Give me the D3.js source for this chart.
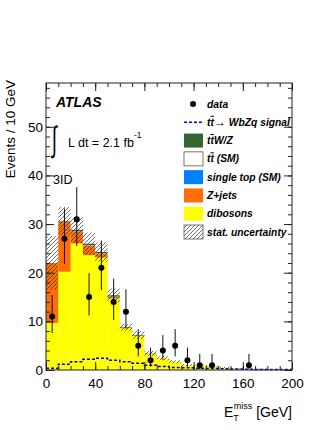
<!DOCTYPE html>
<html>
<head>
<meta charset="utf-8">
<script src="https://cdn.jsdelivr.net/npm/d3@7"></script>
<style>
  body { margin: 0; background: #fff; }
  svg { display: block; font-family: "Liberation Sans", Arial, sans-serif; }
</style>
</head>
<body>
<svg id="svg" width="332" height="430"></svg>
<script>
const w = 332;
const h = 430;

// bin lower edges [GeV], 10 GeV wide
const binLo = [0, 10, 20, 30, 40, 50, 60, 70, 80, 90, 100, 110, 120, 130, 140, 150, 160, 170, 180, 190];
const binWidth = 10;

// stacked backgrounds (bottom to top)
const dibosons = [9.7, 20.2, 26.0, 23.6, 23.1, 14.7, 8.6, 7.0, 3.3, 2.4, 1.7, 1.0, 0.9, 0.8, 0.5, 0.25, 0.15, 0.2, 0.1, 0.1];
const zjets = [12.3, 10.3, 2.4, 2.0, 0.8, 0.3, 0.1, 0.1, 0.05, 0, 0, 0, 0, 0, 0, 0, 0, 0, 0, 0];
const singleTop = [0, 0, 0.05, 0.05, 0.05, 0.05, 0, 0, 0, 0, 0, 0, 0, 0, 0, 0, 0, 0, 0, 0];
const ttbarSM = [0, 0, 0.05, 0.05, 0.05, 0.05, 0, 0, 0, 0, 0, 0, 0, 0, 0, 0, 0, 0, 0, 0];
const ttV = [0, 0.1, 0.3, 0.25, 0.25, 0.25, 0.1, 0.1, 0.05, 0, 0, 0, 0, 0, 0, 0, 0, 0, 0, 0];
const statUnc = [5.5, 2.9, 2.7, 2.3, 2.0, 1.4, 0.7, 0.8, 0.5, 0.4, 0.3, 0.2, 0.2, 0.2, 0.15, 0.1, 0.1, 0.1, 0.05, 0.05];

// signal tt -> WbZq
const signal = [0.35, 1.2, 1.7, 2.2, 2.4, 2.0, 1.7, 1.4, 1.0, 0.7, 0.5, 0.45, 0.35, 0.3, 0.25, 0.2, 0.15, 0.1, 0.1, 0.1];

// data with asymmetric errors
const dataVals = [11, 27, 31, 15, 21, 14, 12, 5, 2, 4, 5, 2, 1, 1, 0, 0, 1, 0, 0, 0];
const errLo = [3.4, 5.2, 5.5, 3.8, 4.6, 3.7, 3.5, 2.2, 1.3, 1.9, 2.2, 1.3, 0.8, 0.8, 0, 0, 0.8, 0, 0, 0];
const errHi = [4.4, 6.2, 6.6, 4.9, 5.6, 4.8, 4.6, 3.4, 2.6, 3.2, 3.4, 2.6, 2.3, 2.3, 0, 0, 2.3, 0, 0, 0];

const xTicks = [0, 40, 80, 120, 160, 200];
const yTicks = [0, 10, 20, 30, 40, 50];

const layers = [
  { key: "dibosons", vals: dibosons, color: "#ffff00" },
  { key: "zjets", vals: zjets, color: "#ff6e00" },
  { key: "singletop", vals: singleTop, color: "#0080ff" },
  { key: "ttbar", vals: ttbarSM, color: "#ffffff" },
  { key: "ttv", vals: ttV, color: "#336633" },
];

// legend labels; "tt" prefix gets a bar over the second t
const legendItems = [
  { label: "data", type: "data" },
  { tt: true, arrow: true, label: " WbZq signal", type: "signal" },
  { tt: true, label: "W/Z", type: "box", color: "#336633" },
  { tt: true, label: " (SM)", type: "box", color: "#ffffff" },
  { label: "single top (SM)", type: "box", color: "#0080ff" },
  { label: "Z+jets", type: "box", color: "#ff6e00" },
  { label: "dibosons", type: "box", color: "#ffff00" },
  { label: "stat. uncertainty", type: "hatch" },
];

const frame = { left: 46, right: 292, top: 83, bottom: 370 };

let svg = d3.select("#svg");

let xScale = d3.scaleLinear([0, 200], [frame.left, frame.right]);
let yScale = d3.scaleLinear([0, 59], [frame.bottom, frame.top]);

// hatch pattern
svg
  .append("defs")
  .append("pattern")
  .attr("id", "hatch")
  .attr("patternUnits", "userSpaceOnUse")
  .attr("width", 4)
  .attr("height", 4)
  .append("path")
  .attr("d", "M-1,1 l2,-2 M0,4 l4,-4 M3,5 l2,-2")
  .attr("stroke", "#333")
  .attr("stroke-width", 0.7);

// stacked histogram
const bins = binLo.map((lo, i) => {
  const row = { lo: lo };
  layers.forEach((l) => (row[l.key] = l.vals[i]));
  return row;
});
const stack = d3.stack().keys(layers.map((l) => l.key));
const stacked = stack(bins);

stacked.forEach((series, k) => {
  svg
    .append("g")
    .selectAll("rect")
    .data(series)
    .join("rect")
    .attr("x", (d) => xScale(d.data.lo))
    .attr("width", xScale(binWidth) - xScale(0))
    .attr("y", (d) => yScale(d[1]))
    .attr("height", (d) => Math.max(0, yScale(d[0]) - yScale(d[1])))
    .attr("fill", layers[k].color);
});

// stat. uncertainty band
const totals = bins.map((b, i) => layers.reduce((s, l) => s + l.vals[i], 0));
svg
  .append("g")
  .selectAll("rect")
  .data(binLo)
  .join("rect")
  .attr("x", (d) => xScale(d))
  .attr("width", xScale(binWidth) - xScale(0))
  .attr("y", (d, i) => yScale(totals[i] + statUnc[i]))
  .attr("height", (d, i) => yScale(Math.max(0, totals[i] - statUnc[i])) - yScale(totals[i] + statUnc[i]))
  .attr("fill", "url(#hatch)");

// signal (dashed step line)
let stepLine = d3
  .line()
  .x((d) => xScale(d[0]))
  .y((d) => yScale(d[1]))
  .curve(d3.curveStepAfter);
const sigPts = binLo.map((lo, i) => [lo, signal[i]]);
sigPts.push([binLo[binLo.length - 1] + binWidth, signal[signal.length - 1]]);
svg
  .append("path")
  .datum(sigPts)
  .attr("fill", "none")
  .attr("stroke", "#0000dd")
  .attr("stroke-width", 1.5)
  .attr("stroke-dasharray", "3,2")
  .attr("d", stepLine);

// data points
const dataPts = binLo
  .map((lo, i) => ({ x: lo + binWidth / 2, v: dataVals[i], lo: errLo[i], hi: errHi[i] }))
  .filter((d) => d.v > 0);
svg
  .append("g")
  .selectAll("line")
  .data(dataPts)
  .join("line")
  .attr("x1", (d) => xScale(d.x))
  .attr("x2", (d) => xScale(d.x))
  .attr("y1", (d) => yScale(d.v - d.lo))
  .attr("y2", (d) => yScale(d.v + d.hi))
  .attr("stroke", "#111")
  .attr("stroke-width", 1);
svg
  .append("g")
  .selectAll("circle")
  .data(dataPts)
  .join("circle")
  .attr("cx", (d) => xScale(d.x))
  .attr("cy", (d) => yScale(d.v))
  .attr("r", 3)
  .attr("fill", "#000");

// axes with inward ticks
const tickColor = "#222";
function styleAxis(g) {
  g.select(".domain").remove();
  g.selectAll("line").attr("stroke", tickColor);
  g.selectAll("text").attr("font-size", 13.5).attr("fill", "#000").attr("font-family", "Liberation Sans, Arial, sans-serif");
}
const xMinor = d3.range(0, 201, 10);
const yMinor = d3.range(0, 59, 2);

svg.append("g").attr("transform", `translate(0,${frame.bottom})`)
  .call(d3.axisBottom(xScale).tickValues(xMinor).tickSize(-4).tickFormat(""))
  .call(styleAxis);
svg.append("g").attr("transform", `translate(0,${frame.bottom})`)
  .call(d3.axisBottom(xScale).tickValues(xTicks).tickSize(-8).tickPadding(8).tickFormat(d3.format("d")))
  .call(styleAxis);
svg.append("g").attr("transform", `translate(0,${frame.top})`)
  .call(d3.axisTop(xScale).tickValues(xMinor).tickSize(-4).tickFormat(""))
  .call(styleAxis);
svg.append("g").attr("transform", `translate(0,${frame.top})`)
  .call(d3.axisTop(xScale).tickValues(xTicks).tickSize(-8).tickFormat(""))
  .call(styleAxis);

svg.append("g").attr("transform", `translate(${frame.left},0)`)
  .call(d3.axisLeft(yScale).tickValues(yMinor).tickSize(-4).tickFormat(""))
  .call(styleAxis);
svg.append("g").attr("transform", `translate(${frame.left},0)`)
  .call(d3.axisLeft(yScale).tickValues(yTicks).tickSize(-8).tickPadding(3).tickFormat(d3.format("d")))
  .call(styleAxis);
svg.append("g").attr("transform", `translate(${frame.right},0)`)
  .call(d3.axisRight(yScale).tickValues(yMinor).tickSize(-4).tickFormat(""))
  .call(styleAxis);
svg.append("g").attr("transform", `translate(${frame.right},0)`)
  .call(d3.axisRight(yScale).tickValues(yTicks).tickSize(-8).tickFormat(""))
  .call(styleAxis);

// frame
svg
  .append("rect")
  .attr("x", frame.left)
  .attr("y", frame.top)
  .attr("width", frame.right - frame.left)
  .attr("height", frame.bottom - frame.top)
  .attr("fill", "none")
  .attr("stroke", tickColor)
  .attr("stroke-width", 1);

// axis titles
svg
  .append("text")
  .attr("transform", `translate(15,${frame.top - 3}) rotate(-90)`)
  .attr("text-anchor", "end")
  .attr("font-size", 13.5)
  .text("Events / 10 GeV");

let xt = svg.append("text").attr("x", frame.right).attr("y", 417).attr("text-anchor", "end").attr("font-size", 14);
xt.append("tspan").text("E");
xt.append("tspan").attr("font-size", 9).attr("dy", 4).text("T");
xt.append("tspan").attr("font-size", 9).attr("dx", -5).attr("dy", -12).text("miss");
xt.append("tspan").attr("dy", 8).text(" [GeV]");

// labels
svg
  .append("text")
  .attr("x", 56)
  .attr("y", 107)
  .attr("font-size", 14)
  .attr("font-weight", "bold")
  .attr("font-style", "italic")
  .text("ATLAS");

svg
  .append("text")
  .attr("transform", "translate(52,151) scale(0.9,1.75)")
  .attr("font-size", 20)
  .text("\u222B");
let lumi = svg.append("text").attr("x", 68).attr("y", 147).attr("font-size", 12.5);
lumi.append("tspan").text("L dt = 2.1 fb");
lumi.append("tspan").attr("font-size", 8.5).attr("dy", -9).text("-1");

svg.append("text").attr("x", 53).attr("y", 184).attr("font-size", 12.5).text("3ID");

// legend
const legY = d3.scaleLinear([0, 7], [104, 232]);
const leg = svg.append("g");
legendItems.forEach((it, i) => {
  const cy = legY(i);
  if (it.type === "data") {
    leg.append("circle").attr("cx", 193).attr("cy", cy).attr("r", 3).attr("fill", "#000");
  } else if (it.type === "signal") {
    leg.append("line").attr("x1", 184).attr("x2", 203).attr("y1", cy).attr("y2", cy)
      .attr("stroke", "#0000dd").attr("stroke-width", 1.5).attr("stroke-dasharray", "3,2");
  } else {
    leg.append("rect").attr("x", 184).attr("y", cy - 7).attr("width", 19).attr("height", 14)
      .attr("fill", it.type === "hatch" ? "url(#hatch)" : it.color)
      .attr("stroke", it.type === "box" && it.color !== "#ffffff" ? "none" : "#555")
      .attr("stroke-width", 0.8);
  }
  const t = leg.append("text")
    .attr("x", 207)
    .attr("y", cy + 3.5)
    .attr("font-size", 10.3)
    .attr("font-weight", "bold")
    .attr("font-style", "italic");
  if (it.tt) {
    t.append("tspan").text("t");
    t.append("tspan").style("text-decoration", "overline").text("t");
    if (it.arrow) t.append("tspan").attr("font-weight", "normal").attr("font-size", 12).text("\u2192");
  }
  t.append("tspan").text(it.label);
});
</script>
</body>
</html>
